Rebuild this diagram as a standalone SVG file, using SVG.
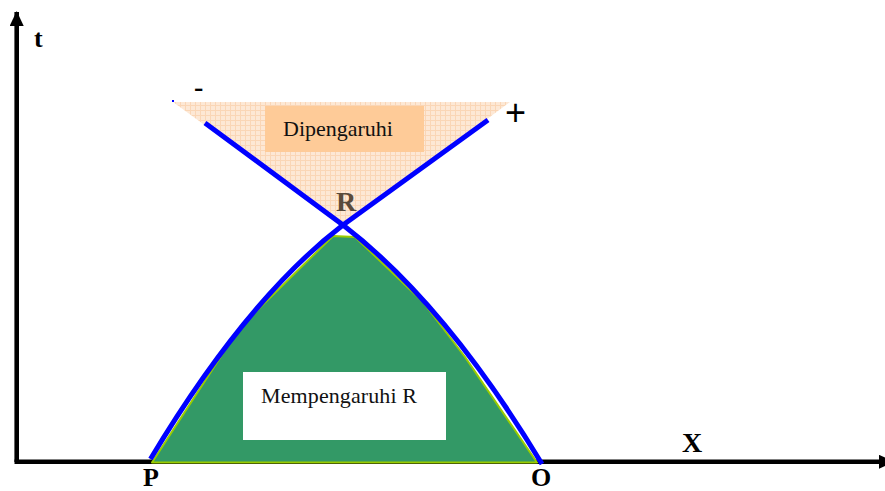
<svg xmlns="http://www.w3.org/2000/svg" width="885" height="491" viewBox="0 0 885 491">
<defs>
<pattern id="grid" width="5" height="5" patternUnits="userSpaceOnUse">
<rect width="5" height="5" fill="#fde8d5"/>
<path d="M0 0.5H5M0.5 0V5" stroke="#fad6b6" stroke-width="1"/>
</pattern>
<marker id="ah" viewBox="0 0 15 14" refX="14" refY="7" markerWidth="15" markerHeight="14" markerUnits="userSpaceOnUse" orient="auto">
<path d="M0 0L15 7L0 14Z" fill="#000"/>
</marker>
<style>
.axis{stroke:#000;stroke-width:4.6;fill:none}
.lbl{font-family:"Liberation Serif","Times New Roman",serif;font-weight:bold;fill:#000}
.body{font-family:"Liberation Serif","Times New Roman",serif;font-size:22px;fill:#111}
.wl{stroke:#0000ff;stroke-width:5;fill:none;stroke-linecap:butt}
</style>
</defs>
<g id="axes">
<line class="axis" x1="16.7" y1="462" x2="16.7" y2="12" marker-end="url(#ah)"/>
<line class="axis" x1="14.5" y1="461.8" x2="893" y2="461.8" marker-end="url(#ah)"/>
<text class="lbl" x="34" y="47" font-size="26">t</text>
<text class="lbl" x="682" y="452" font-size="28">X</text>
<text class="lbl" x="143" y="486" font-size="26">P</text>
<text class="lbl" x="531" y="486" font-size="26">O</text>
</g>
<g id="future-cone">
<polygon points="173,102 510,102 343,226" fill="url(#grid)"/>
<rect x="265" y="106" width="159" height="46" fill="#fecb98"/>
<text class="body" x="283" y="136">Dipengaruhi</text>
<text class="lbl" x="194" y="96" font-size="28">-</text>
<text x="505" y="125" font-family="'Liberation Sans',Arial,sans-serif" font-size="36" fill="#000">+</text>
</g>
<g id="past-region">
<polygon points="152,462.5 240,327 333,236 355,237 423,302 465,357 537,462.5" fill="#339966" stroke="#99cc00" stroke-width="2" stroke-linejoin="round"/>
<rect x="243" y="372" width="203" height="68" fill="#fff"/>
<text class="body" x="261" y="403" textLength="156">Mempengaruhi R</text>
</g>
<g id="event-R">
<text class="lbl" x="336" y="211" font-size="28" style="fill:#5b4b3b">R</text>
</g>
<g id="connectors">
<path class="wl" d="M150.5,459 Q246.6,299 343,225 L488,120"/>
<path class="wl" d="M542,464 Q445.6,304 343,225 L205,123"/>
<rect x="172" y="100" width="2" height="2" fill="#0000ff"/>
</g>
</svg>
